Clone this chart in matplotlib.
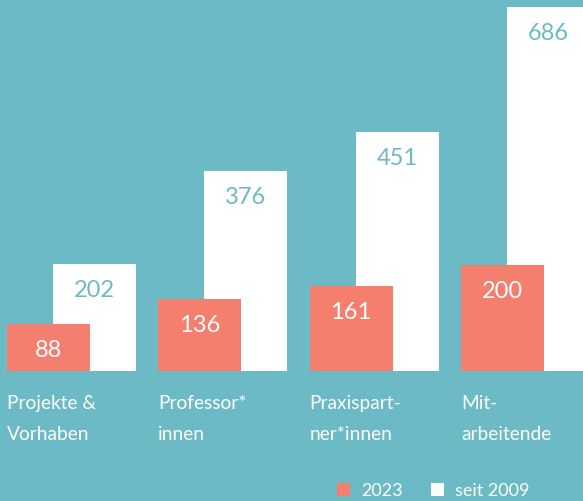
import matplotlib
matplotlib.use("Agg")
import matplotlib.pyplot as plt
import numpy as np

categories = ["Projekte &\nVorhaben", "Professor*\ninnen", "Praxispart-\nner*innen", "Mit-\narbeitende"]
values_2023 = [88, 136, 161, 200]
values_seit = [202, 376, 451, 686]
legend_labels = ["2023", "seit 2009"]

teal = "#6BBAC5"
salmon = "#F47F6F"

plt.rcParams["font.family"] = ["Lato", "DejaVu Sans"]

fig = plt.figure(figsize=(5.83, 5.02), dpi=100)
fig.patch.set_facecolor(teal)
ax = fig.add_axes([0, 0, 1, 1])
ax.set_facecolor(teal)

step = 151.3  # px between groups
x = np.arange(len(categories))
w = 83 / step
off = 46 / step

white_bars = ax.bar(x + off, values_seit, width=w, align="edge", color="white", zorder=1)
red_bars = ax.bar(x, values_2023, width=w, align="edge", color=salmon, zorder=2)

for i, v in enumerate(values_seit):
    ax.annotate(str(v), (x[i] + off + w / 2, v), xytext=(0, -23), textcoords="offset points",
                ha="center", va="baseline", color=teal, fontsize=17, zorder=3)
for i, v in enumerate(values_2023):
    ax.annotate(str(v), (x[i] + w / 2, v), xytext=(0, -23), textcoords="offset points",
                ha="center", va="baseline", color="white", fontsize=17, zorder=3)

for i, c in enumerate(categories):
    ax.annotate(c, (x[i], 0), xytext=(0, -49), textcoords="offset points",
                ha="left", va="baseline", color="white", fontsize=13.8, linespacing=2.0)

ax.set_xlim(-7 / step, 576 / step)
ax.set_ylim(-130 / 0.5306, 372 / 0.5306)
ax.axis("off")

fig.legend([red_bars, white_bars], legend_labels, loc="center left",
           bbox_to_anchor=(337 / 583, 1 - 491.5 / 502), ncol=2, frameon=False,
           fontsize=13, labelcolor="white", handlelength=0.72, handleheight=0.72,
           handletextpad=0.6, columnspacing=1.6, borderpad=0, borderaxespad=0)

fig.savefig("out.png", dpi=100, facecolor=teal)
